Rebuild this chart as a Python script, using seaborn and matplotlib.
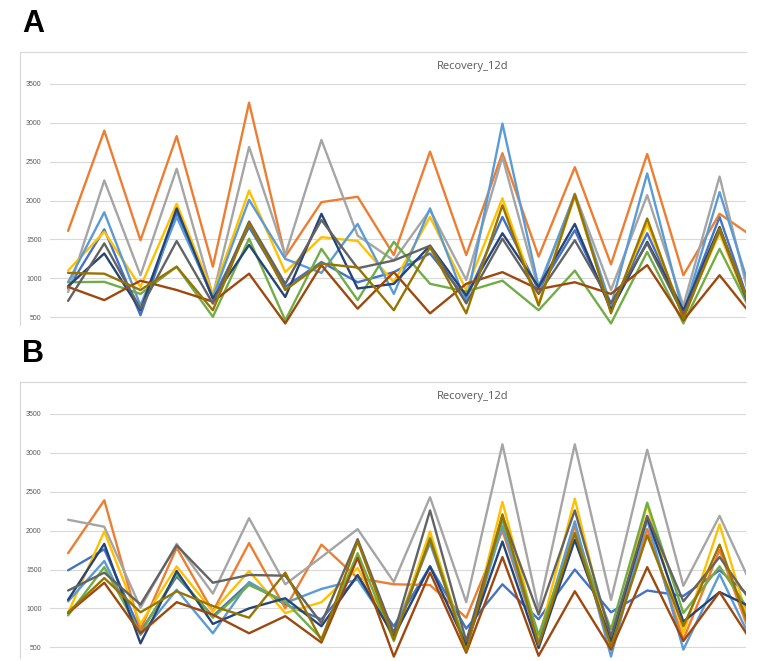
import seaborn as sns
import matplotlib
matplotlib.use('Agg')
import matplotlib.pyplot as plt
from matplotlib.lines import Line2D
import numpy as np
import pandas as pd

# Series names and Excel default colours
series = ['S1', 'S2', 'S3', 'S4', 'S5', 'S6', 'S7', 'S8', 'S9', 'S10']
colours = ['#4472C4', '#ED7D31', '#A5A5A5', '#FFC000', '#5B9BD5',
           '#70AD47', '#264478', '#9E480E', '#636363', '#997300']
points = list(range(20))

# Panel A values (one list per series)
a_s1 = [870, 1630, 525, 1850, 740, 1660, 890, 1210, 950, 1080, 1320, 740, 1790, 850, 1620, 630, 1580, 570, 1790, 430]
a_s2 = [1610, 2900, 1490, 2830, 1150, 3260, 1280, 1980, 2050, 1300, 2630, 1300, 2610, 1280, 2430, 1180, 2600, 1040, 1830, 1510]
a_s3 = [825, 2260, 1040, 2410, 780, 2690, 1300, 2780, 1550, 1230, 1880, 980, 2560, 850, 2090, 850, 2070, 650, 2310, 420]
a_s4 = [1100, 1600, 890, 1960, 800, 2130, 1080, 1530, 1480, 950, 1790, 850, 2030, 680, 2050, 570, 1700, 530, 1580, 400]
a_s5 = [950, 1850, 650, 1790, 760, 2010, 1250, 1070, 1700, 800, 1900, 680, 2990, 890, 2070, 650, 2350, 550, 2110, 620]
a_s6 = [950, 955, 800, 1150, 505, 1510, 460, 1380, 720, 1470, 930, 830, 970, 590, 1100, 420, 1340, 420, 1380, 450]
a_s7 = [900, 1320, 590, 1900, 740, 1430, 760, 1830, 870, 930, 1420, 780, 1580, 890, 1700, 590, 1470, 590, 1660, 410]
a_s8 = [890, 720, 970, 850, 700, 1060, 420, 1170, 610, 1080, 550, 930, 1080, 860, 950, 800, 1170, 460, 1040, 460]
a_s9 = [710, 1450, 610, 1480, 675, 1730, 930, 1750, 1130, 1230, 1420, 680, 1510, 800, 1490, 680, 1450, 530, 1620, 440]
a_s10 = [1070, 1060, 850, 1150, 590, 1710, 850, 1190, 1140, 590, 1400, 550, 1940, 650, 2080, 550, 1770, 480, 1640, 460]

# Panel B values
b_s1 = [1490, 1760, 705, 1410, 900, 1330, 1050, 860, 1410, 770, 1540, 740, 1310, 860, 1500, 950, 1230, 1160, 1490, 1090]
b_s2 = [1710, 2390, 730, 1780, 960, 1840, 1000, 1820, 1390, 1310, 1300, 880, 2000, 580, 2060, 580, 2020, 600, 1750, 470]
b_s3 = [2140, 2050, 1010, 1830, 1190, 2160, 1310, 1660, 2020, 1340, 2430, 1080, 3110, 990, 3110, 1110, 3040, 1290, 2190, 1180]
b_s4 = [940, 1990, 800, 1540, 960, 1480, 940, 1080, 1520, 620, 1990, 470, 2370, 600, 2410, 510, 2340, 680, 2080, 520]
b_s5 = [1090, 1610, 660, 1240, 680, 1340, 1070, 1250, 1370, 680, 1840, 510, 2060, 560, 2120, 380, 2140, 470, 1440, 470]
b_s6 = [910, 1530, 680, 1440, 880, 1300, 1090, 610, 1710, 580, 1910, 510, 2140, 660, 1950, 730, 2360, 940, 1540, 840]
b_s7 = [1110, 1830, 550, 1480, 800, 1000, 1130, 770, 1430, 640, 1540, 530, 1860, 490, 1880, 580, 2170, 830, 1210, 990]
b_s8 = [940, 1330, 680, 1080, 920, 680, 900, 560, 1650, 380, 1460, 430, 1660, 390, 1220, 470, 1530, 580, 1210, 490]
b_s9 = [1230, 1460, 1050, 1810, 1330, 1430, 1420, 810, 1890, 680, 2260, 580, 2190, 920, 2260, 640, 2190, 1090, 1660, 1000]
b_s10 = [950, 1390, 950, 1220, 1030, 880, 1460, 590, 1860, 600, 1890, 450, 2210, 530, 1970, 510, 1940, 770, 1820, 530]

panel_a = [a_s1, a_s2, a_s3, a_s4, a_s5, a_s6, a_s7, a_s8, a_s9, a_s10]
panel_b = [b_s1, b_s2, b_s3, b_s4, b_s5, b_s6, b_s7, b_s8, b_s9, b_s10]


def to_long(panel):
    rows = []
    for name, vals in zip(series, panel):
        for p, v in zip(points, vals):
            rows.append({'point': p, 'value': v, 'series': name})
    return pd.DataFrame(rows)


sns.set_theme(style='white')
plt.rcParams['font.family'] = ['Liberation Sans', 'DejaVu Sans']

W, H = 761, 661
fig = plt.figure(figsize=(W / 100, H / 100), dpi=100)


def px_box(left, top, right, bottom):
    return [left / W, 1 - bottom / H, (right - left) / W, (bottom - top) / H]


def draw_panel(panel, letter, y0, bottom_px, ymin):
    # chart area border (light grey, top and left only visible in crop)
    fig.add_artist(Line2D([20 / W, 746 / W], [1 - (y0 + 52) / H] * 2,
                          transform=fig.transFigure, color='#D9D9D9', lw=0.9))
    fig.add_artist(Line2D([20 / W] * 2, [1 - (y0 + 52) / H, 1 - bottom_px / H],
                          transform=fig.transFigure, color='#D9D9D9', lw=0.9))
    fig.text(22 / W, 1 - (y0 + 32) / H, letter, fontsize=22, fontweight='bold',
             color='black', ha='left', va='baseline')
    fig.text(473 / W, 1 - (y0 + 67) / H, 'Recovery_12d', fontsize=8,
             color='#595959', ha='center', va='center',
             family=['Open Sans', 'DejaVu Sans'])

    ax = fig.add_axes(px_box(50, y0 + 84, 746, bottom_px))
    df = to_long(panel)
    sns.lineplot(data=df, x='point', y='value', hue='series', hue_order=series,
                 palette=colours, linewidth=1.7, legend=False, ax=ax)
    ax.set_xlim(-0.5, 18.73)
    ax.set_ylim(ymin, 3500)
    ax.set_yticks(range(500, 3501, 500))
    ax.set_xticks([])
    ax.set_xlabel('')
    ax.set_ylabel('')
    ax.yaxis.grid(True, color='#D9D9D9', lw=0.8)
    ax.set_axisbelow(True)
    for s in ax.spines.values():
        s.set_visible(False)
    ax.tick_params(axis='y', length=0, pad=6, labelsize=5, labelcolor='#595959')
    ax.patch.set_alpha(0)
    return ax


draw_panel(panel_a, 'A', 0, 325, 400)
draw_panel(panel_b, 'B', 330, 658, 362)

plt.savefig('out.png', dpi=100)
